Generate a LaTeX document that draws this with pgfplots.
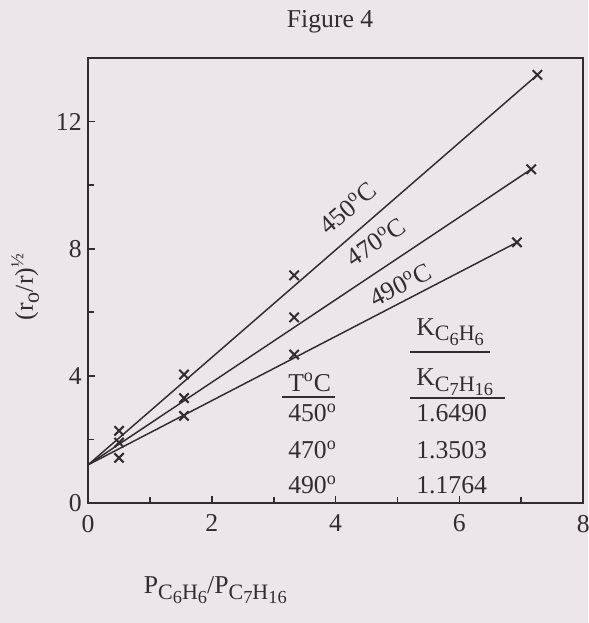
\documentclass[border=0pt]{standalone}
\usepackage{pgfplots}
\pgfplotsset{compat=1.18}
\usepackage{fontspec}
\setmainfont{Liberation Serif}
\usepackage{xcolor}
\definecolor{bg}{RGB}{236,229,233}
\definecolor{ink}{RGB}{48,44,48}
\newcommand\suba[1]{\raisebox{-0.5ex}{\fontsize{12}{12}\selectfont #1}}
\newcommand\subb[1]{\raisebox{-0.45ex}{\fontsize{10}{10}\selectfont #1}}
\newcommand\fs{\fontsize{14}{16}\selectfont}
\begin{document}
\begin{tikzpicture}
\path[use as bounding box, fill=bg] (-48pt,-65.4pt) rectangle (272.5pt,274.1pt);
\begin{axis}[
  at={(0,0)}, anchor=south west,
  scale only axis, width=269.8pt, height=242.5pt,
  xmin=0, xmax=8, ymin=0, ymax=14,
  xtick={0,2,4,6,8}, minor xtick={1,3,5,7},
  ytick={0,4,8,12}, minor ytick={2,6,10},
  tick align=inside, xtick pos=bottom, ytick pos=left,
  major tick length=4pt, minor tick length=3pt,
  axis line style={ink, line width=1pt},
  every tick/.style={ink, line width=0.9pt},
  tick label style={font=\fs, text=ink},
  xticklabel style={yshift=-3pt},
  /pgf/number format/assume math mode=true,
  xlabel={P\suba{C\subb{6}H\subb{6}}/P\suba{C\subb{7}H\subb{16}}},
  xlabel style={at={(axis description cs:0.257,-0.196)}, anchor=center, font=\fs, text=ink},
  ylabel={(r\suba{o}/r)\raisebox{0.8ex}{\fontsize{10}{10}\selectfont ½}},
  ylabel style={at={(axis description cs:-0.127,0.485)}, anchor=center, font=\fs, text=ink},
]
% fitted lines
\addplot[ink, line width=0.8pt] coordinates {(0,1.2) (7.26,13.47)};
\addplot[ink, line width=0.8pt] coordinates {(0,1.2) (7.16,10.5)};
\addplot[ink, line width=0.8pt] coordinates {(0,1.2) (6.93,8.2)};
% data points
\addplot[only marks, mark=x, mark size=3.6pt, ink, mark options={line width=1.1pt}]
  coordinates {(0.5,2.27) (1.55,4.04) (3.33,7.16) (7.26,13.47)};
\addplot[only marks, mark=x, mark size=3.6pt, ink, mark options={line width=1.1pt}]
  coordinates {(0.5,1.9) (1.55,3.3) (3.33,5.84) (7.16,10.5)};
\addplot[only marks, mark=x, mark size=3.6pt, ink, mark options={line width=1.1pt}]
  coordinates {(0.5,1.42) (1.55,2.74) (3.33,4.67) (6.93,8.2)};
% line labels
\node[font=\fs, text=ink, rotate=41, xshift=-2pt, yshift=2pt] at (axis cs:4.28,9.28) {450\textsuperscript{o}C};
\node[font=\fs, text=ink, rotate=34, xshift=-1.5pt, yshift=2pt] at (axis cs:4.72,8.18) {470\textsuperscript{o}C};
\node[font=\fs, text=ink, rotate=27.5, xshift=-1pt, yshift=2pt] at (axis cs:5.1,6.8) {490\textsuperscript{o}C};
% table
\node[font=\fs, text=ink, anchor=west] at (axis cs:3.13,3.8) {T\textsuperscript{o}C};
\draw[ink, line width=1pt] (axis cs:3.13,3.33) -- (axis cs:3.99,3.33);
\node[font=\fs, text=ink, anchor=west] at (axis cs:3.13,2.83) {450\textsuperscript{o}};
\node[font=\fs, text=ink, anchor=west] at (axis cs:3.13,1.67) {470\textsuperscript{o}};
\node[font=\fs, text=ink, anchor=west] at (axis cs:3.13,0.57) {490\textsuperscript{o}};
\node[font=\fs, text=ink, anchor=west] at (axis cs:5.2,5.38) {K\suba{C\subb{6}H\subb{6}}};
\draw[ink, line width=1pt] (axis cs:5.2,4.75) -- (axis cs:6.5,4.75);
\node[font=\fs, text=ink, anchor=west] at (axis cs:5.2,3.8) {K\suba{C\subb{7}H\subb{16}}};
\draw[ink, line width=1pt] (axis cs:5.2,3.3) -- (axis cs:6.74,3.3);
\node[font=\fs, text=ink, anchor=west] at (axis cs:5.2,2.83) {1.6490};
\node[font=\fs, text=ink, anchor=west] at (axis cs:5.2,1.67) {1.3503};
\node[font=\fs, text=ink, anchor=west] at (axis cs:5.2,0.57) {1.1764};
\end{axis}
\node[font=\fs, text=ink] at (131.9pt,262.1pt) {Figure 4};
\end{tikzpicture}
\end{document}
